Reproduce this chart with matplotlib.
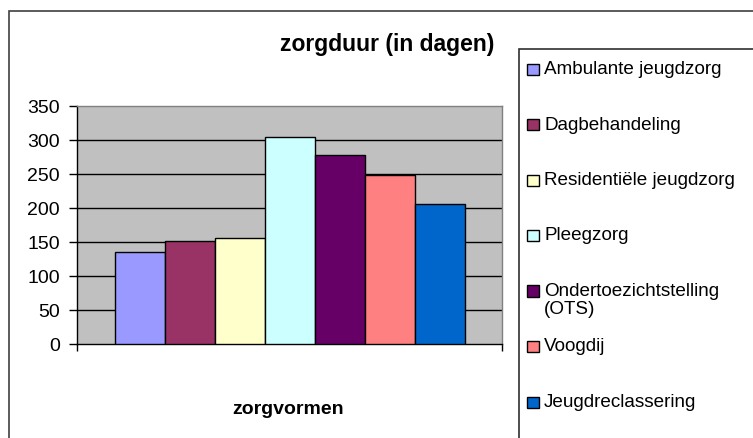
import matplotlib
matplotlib.use("Agg")
import matplotlib.pyplot as plt
from matplotlib.patches import Rectangle

plt.rcParams['font.family'] = ['Liberation Sans', 'DejaVu Sans']

categories = ["Ambulante jeugdzorg", "Dagbehandeling", "Residentiële jeugdzorg",
              "Pleegzorg", "Ondertoezichtstelling\n(OTS)", "Voogdij", "Jeugdreclassering"]
values = [135, 151, 155, 304, 278, 248, 205]
colors = ["#9999FF", "#993366", "#FFFFCC", "#CCFFFF", "#660066", "#FF8080", "#0066CC"]
yticks = [0, 50, 100, 150, 200, 250, 300, 350]

W, H = 753, 439
fig = plt.figure(figsize=(W / 100, H / 100), dpi=100)

def fx(x):
    return x / W

def fy(y):
    return 1 - y / H

# outer chart border
fig.add_artist(Rectangle((fx(9), fy(460)), fx(800) - fx(9), fy(12) - fy(460),
                         transform=fig.transFigure, fill=False, edgecolor="#404040", lw=1.2))

ax = fig.add_axes([fx(77), fy(345), fx(502) - fx(77), fy(106.6) - fy(345)])
ax.set_facecolor("#C0C0C0")
x = list(range(len(values)))
ax.bar(x, values, width=1.0, color=colors, edgecolor="black", lw=1.0, zorder=3)
ax.set_xlim(-1.25, len(values) + 0.25)
ax.set_ylim(0, 350)
ax.set_yticks(yticks)
ax.set_yticklabels([str(v) for v in yticks], fontsize=14)
for v in yticks[1:-1]:
    ax.axhline(v, color="black", lw=1.0, zorder=1)
ax.set_xticks([-1.25, len(values) + 0.25])
ax.set_xticklabels(["", ""])
ax.tick_params(axis="y", direction="out", length=6, width=1, pad=6.5, colors="black")
ax.tick_params(axis="x", direction="out", length=5, width=1)
ax.spines["left"].set_color("black")
ax.spines["bottom"].set_color("black")
ax.spines["top"].set_color("#808080")
ax.spines["right"].set_color("#808080")
for s in ax.spines.values():
    s.set_linewidth(1.0)

fig.text(fx(387), fy(45), "zorgduur (in dagen)", fontsize=16.5, fontweight="bold",
         ha="center", va="center")
fig.text(fx(288), fy(410), "zorgvormen", fontsize=14, fontweight="bold",
         ha="center", va="center")

# legend box
fig.add_artist(Rectangle((fx(519), fy(460)), fx(800) - fx(519), fy(50) - fy(460),
                         transform=fig.transFigure, fill=False, edgecolor="#303030", lw=1.2))
for i, (lab, col) in enumerate(zip(categories, colors)):
    yc = 70 + i * 55.5
    fig.add_artist(Rectangle((fx(527), fy(yc + 5.5)), fx(539) - fx(527), fy(yc - 5.5) - fy(yc + 5.5),
                             transform=fig.transFigure, facecolor=col, edgecolor="black", lw=1.0))
    fig.text(fx(544), fy(yc - 9), lab, fontsize=13.6, ha="left", va="top",
             linespacing=1.1)

fig.savefig("out.png", dpi=100)
